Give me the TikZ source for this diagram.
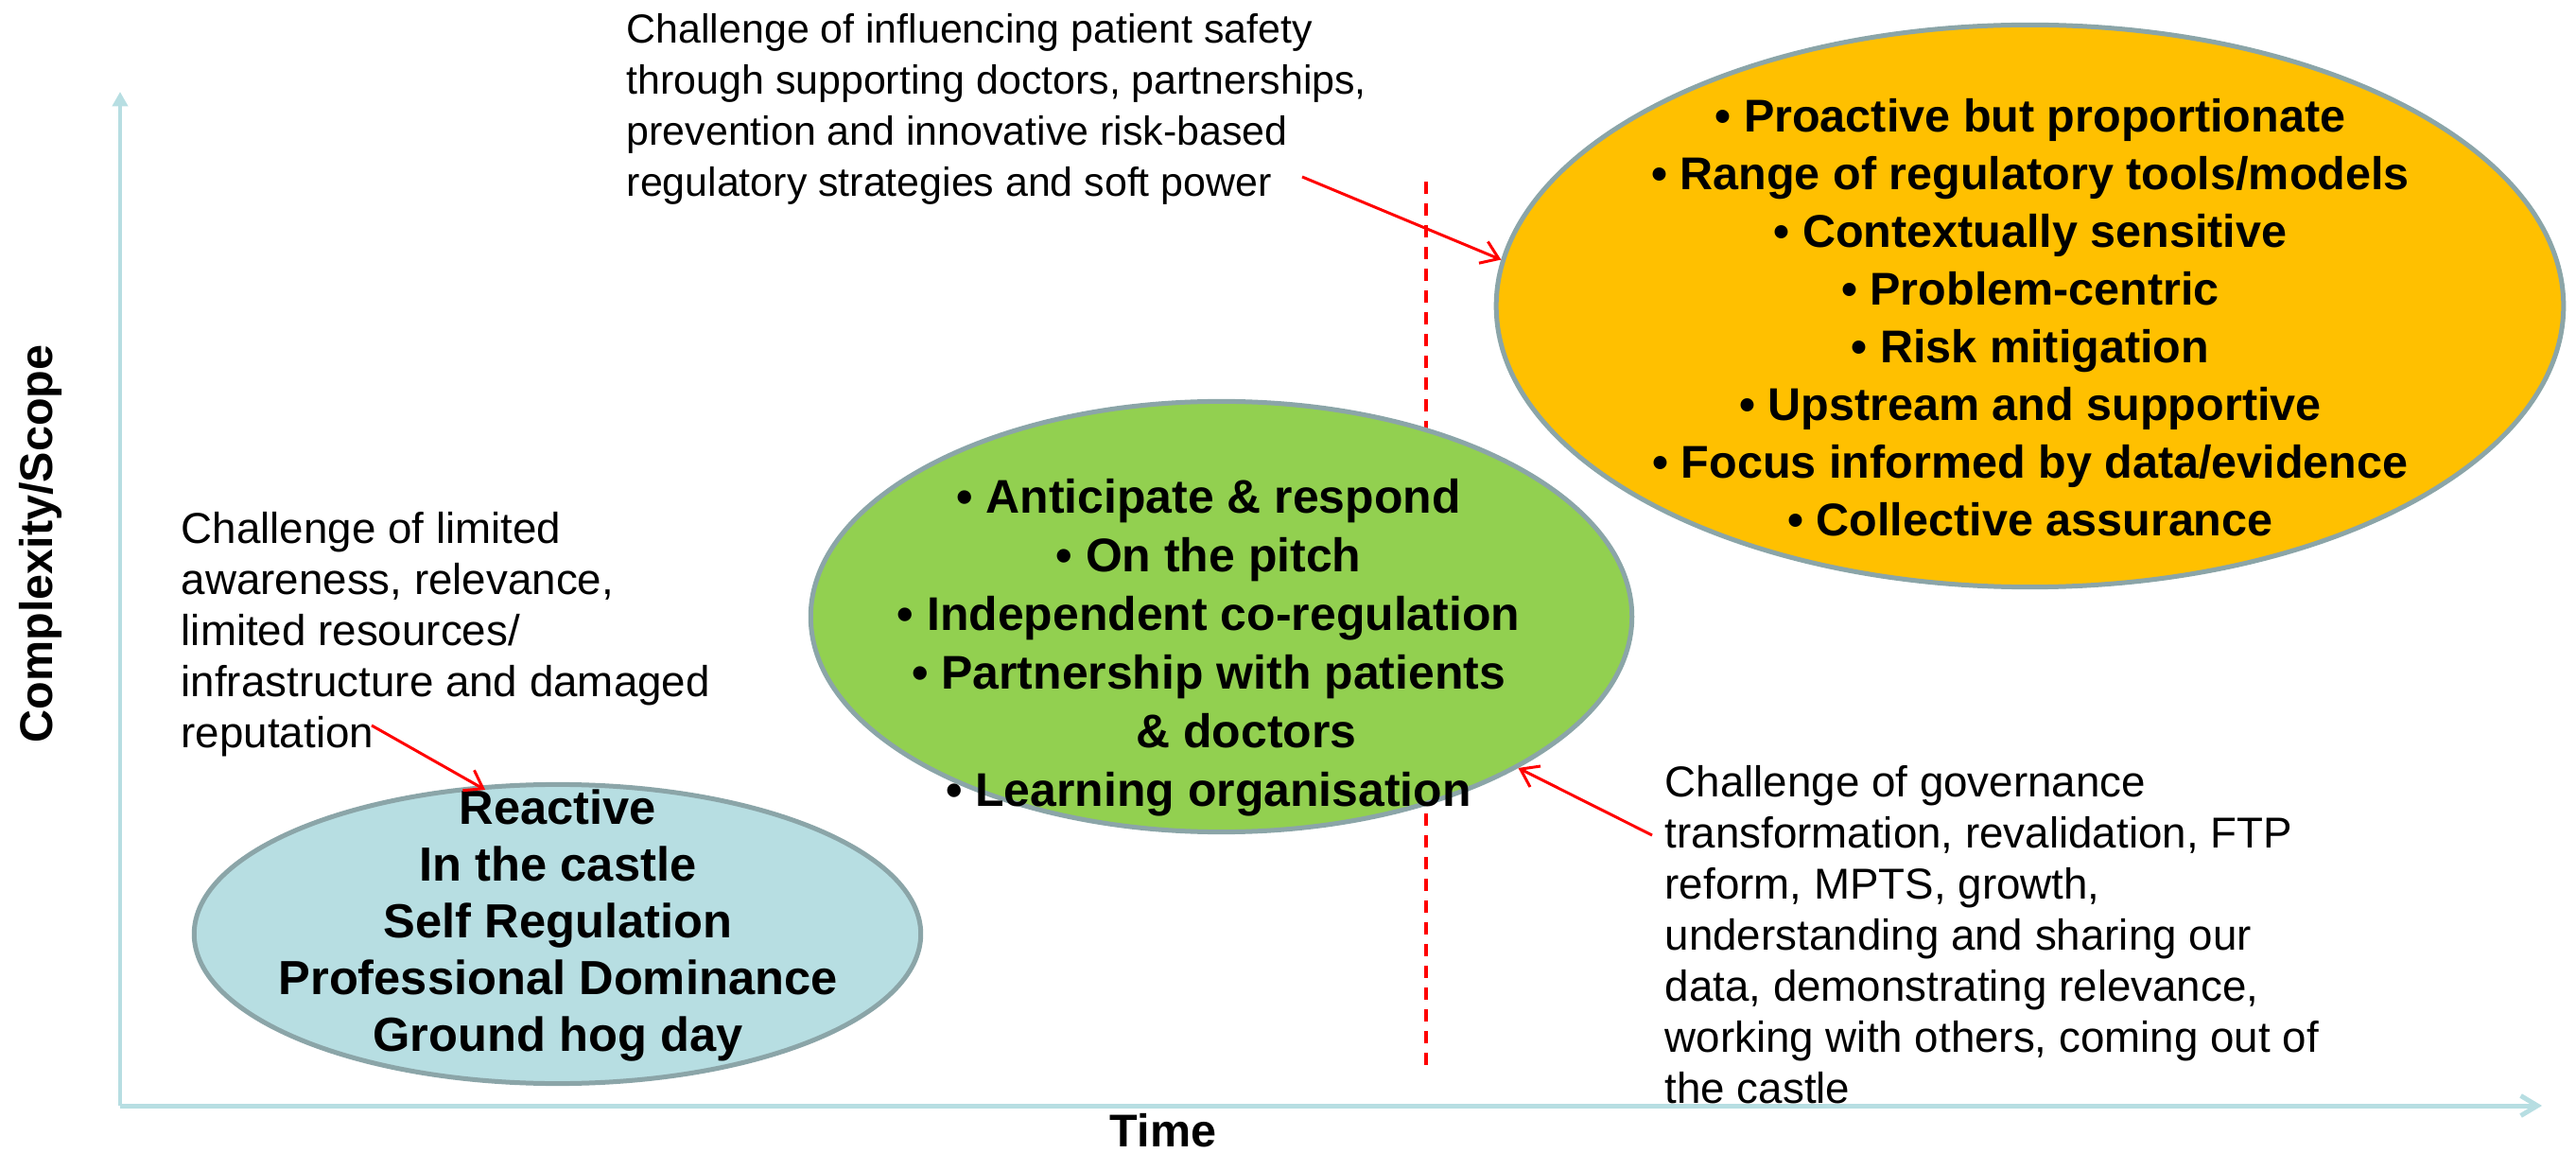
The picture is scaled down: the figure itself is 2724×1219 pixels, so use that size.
\documentclass[tikz,border=0pt]{standalone}
\usepackage{fontspec}
\setmainfont{Liberation Sans}
\usepackage{tikz}
\usetikzlibrary{positioning,arrows.meta,shapes.geometric}

\definecolor{axisblue}{HTML}{B7DEE2}
\definecolor{rimgrey}{HTML}{8BA5A8}
\definecolor{goldfill}{HTML}{FFC000}
\definecolor{leaffill}{HTML}{92D050}
\definecolor{icefill}{HTML}{B7DEE2}

\begin{document}
\begin{tikzpicture}[
  x=0.01cm, y=-0.01cm,
  axis/.style    = {draw=axisblue, line width=1.42pt},
  phase/.style   = {ellipse, draw=rimgrey, line width=1.42pt, inner sep=0pt},
  bul/.style     = {align=center, inner sep=0pt, anchor=north},
  note/.style    = {align=left, inner sep=0pt, anchor=north west,
                    font=\fontsize{12.2}{15.36}\selectfont},
  wide/.style    = {note, font=\fontsize{13}{15.36}\selectfont},
  pointer/.style = {-{Straight Barb[length=5pt, width=7pt]}, red, line width=0.85pt},
  axlbl/.style   = {font=\fontsize{13.8}{16}\selectfont\bfseries, inner sep=0pt},
]
\useasboundingbox (0,0) rectangle (2724,1219);

% ================= axes ================================================
\coordinate (origin) at (127,1169);
\coordinate (ytop)   at (127,97);
\coordinate (xend)   at (2688,1169);
\draw[axis, -{Triangle[length=4.4pt, width=4.6pt]}] (origin) -- (ytop);
\draw[axis, -{Straight Barb[length=5pt, width=6pt]}] (origin) -- (xend);
\node[axlbl, rotate=90] (ylbl) at (43,575) {Complexity/Scope};
\node[axlbl] (xlbl) at (1230,1195) {Time};

% phase boundary
\coordinate (splittop) at (1508,192);
\coordinate (splitbot) at (1508,1127);
\draw[red, line width=1.14pt, dash pattern=on 3.7pt off 2.85pt] (splittop) -- (splitbot);

% ================= phases ==============================================
\node[phase, fill=icefill,  minimum width=7.68cm,  minimum height=3.16cm] (castle)    at (589.5,987.5) {};
\node[phase, fill=leaffill, minimum width=8.68cm,  minimum height=4.55cm] (coreg)     at (1291.5,652) {};
\node[phase, fill=goldfill, minimum width=11.28cm, minimum height=5.94cm] (proactive) at (2146.5,323.5) {};

\node[bul, font=\fontsize{14.4}{17.07}\selectfont\bfseries] (castletxt) at (590,834)
  {Reactive\\In the castle\\Self Regulation\\Professional Dominance\\Ground hog day};
\node[bul, font=\fontsize{14.2}{17.6}\selectfont\bfseries] (coregtxt) at (1278,506)
  {\textbullet{} Anticipate \& respond\\\textbullet{} On the pitch\\
   \textbullet{} Independent co-regulation\\\textbullet{} Partnership with patients\\
   \hspace*{22.8pt}\& doctors\\\textbullet{} Learning organisation};
\node[bul, font=\fontsize{13.8}{17.35}\selectfont\bfseries] (proactivetxt) at (2147,104)
  {\textbullet{} Proactive but proportionate\\\textbullet{} Range of regulatory tools/models\\
   \textbullet{} Contextually sensitive\\\textbullet{} Problem-centric\\
   \textbullet{} Risk mitigation\\\textbullet{} Upstream and supportive\\
   \textbullet{} Focus informed by data/evidence\\\textbullet{} Collective assurance};

% ================= challenges ==========================================
\node[note] (safety) at (662,14)
  {Challenge of influencing patient safety\\through supporting doctors, partnerships,\\
   prevention and innovative risk-based\\regulatory strategies and soft power};
\node[wide] (awareness) at (191,541)
  {Challenge of limited\\awareness, relevance,\\limited resources/\\
   infrastructure and damaged\\reputation};
\node[wide] (governance) at (1760,809)
  {Challenge of governance\\transformation, revalidation, FTP\\reform, MPTS, growth,\\
   understanding and sharing our\\data, demonstrating relevance,\\
   working with others, coming out of\\the castle};

% ================= pointers ============================================
\coordinate (powerend) at (1377,187);
\coordinate (reputend) at (393,767);
\coordinate (govstart) at (1747,883);
\coordinate (reacttip) at (513,835);
\draw[pointer] (powerend) -- (proactive.175.6);
\draw[pointer] (reputend) -- (reacttip);
\draw[pointer] (govstart) -- (coreg.-27.5);

\end{tikzpicture}
\end{document}
